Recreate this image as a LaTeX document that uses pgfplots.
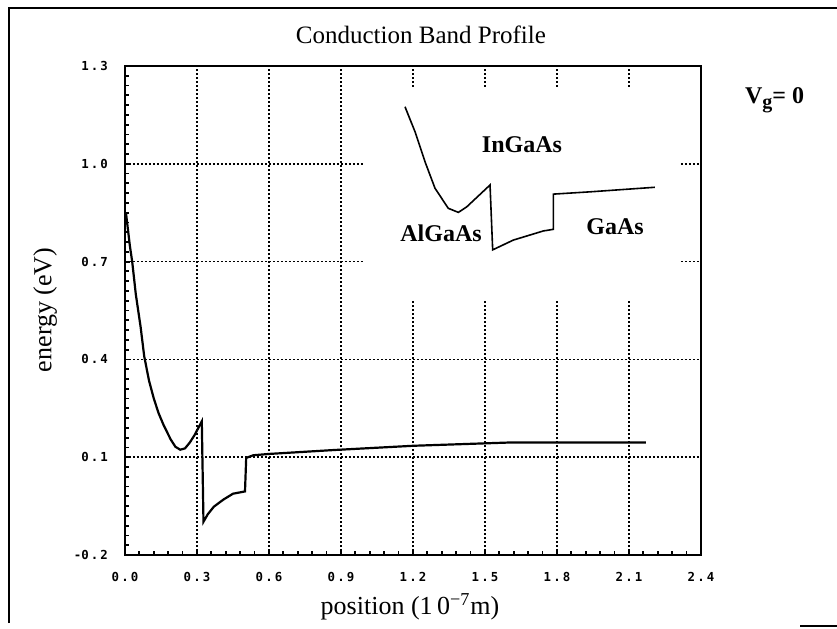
\documentclass[border=0pt]{standalone}
\usepackage{pgfplots}
\pgfplotsset{compat=1.18}
\usepackage{fontspec}
\setmainfont{Liberation Serif}
\setmonofont{DejaVu Sans Mono}
\begin{document}
\begin{tikzpicture}
\useasboundingbox (-62.5pt,-36.5pt) rectangle (356pt,277.5pt);
\begin{axis}[
  at={(0pt,0pt)}, anchor=south west,
  scale only axis, width=288pt, height=244.5pt,
  xmin=0, xmax=2.4, ymin=-0.2, ymax=1.3,
  xtick={0,0.3,0.6,0.9,1.2,1.5,1.8,2.1,2.4},
  xticklabels={0\,.\,0,0\,.\,3,0\,.\,6,0\,.\,9,1\,.\,2,1\,.\,5,1\,.\,8,2\,.\,1,2\,.\,4},
  ytick={-0.2,0.1,0.4,0.7,1.0,1.3},
  yticklabels={-0\,.\,2,0\,.\,1,0\,.\,4,0\,.\,7,1\,.\,0,1\,.\,3},
  minor x tick num=4, minor y tick num=9,
  tick align=inside,
  xtick pos=bottom, ytick pos=left,
  major tick length=2.5pt, minor tick length=2pt,
  grid=major,
  major grid style={black, line width=0.8pt, dash pattern=on 0.8pt off 1.2pt},
  axis line style={line width=1.1pt},
  tick style={black, line width=0.9pt},
  ticklabel style={font=\ttfamily\bfseries\fontsize{6.2}{7}\selectfont},
  yticklabel style={anchor=east, xshift=-5pt},
  xticklabel style={anchor=north, yshift=-5pt},
  clip=false,
]
\addplot[black, line width=1.1pt] coordinates {
 (0.004,0.85) (0.02,0.75) (0.03,0.70) (0.045,0.60) (0.065,0.50) (0.08,0.41)
 (0.10,0.335) (0.12,0.28) (0.14,0.235) (0.16,0.20) (0.19,0.155) (0.21,0.132)
 (0.23,0.123) (0.25,0.127) (0.27,0.145) (0.29,0.168) (0.32,0.21)
 (0.327,-0.098) (0.345,-0.075) (0.37,-0.052) (0.41,-0.030) (0.45,-0.012) (0.50,-0.005)
 (0.505,0.098) (0.535,0.106) (0.60,0.110) (0.87,0.122) (1.20,0.135)
 (1.40,0.140) (1.60,0.145) (1.90,0.145) (2.17,0.145)
};
\fill[white] (axis cs:0.99,0.582) rectangle (axis cs:2.31,1.236);
\addplot[black, line width=0.8pt] coordinates {
 (1.1667,1.175) (1.2083,1.0985) (1.25,1.0064) (1.2917,0.925) (1.347,0.8635)
 (1.389,0.851) (1.424,0.868) (1.521,0.935) (1.532,0.736) (1.618,0.766)
 (1.743,0.794) (1.785,0.799) (1.785,0.907) (1.9375,0.914) (2.208,0.928)
};
\node[font=\bfseries\fontsize{12}{14}\selectfont] at (axis cs:1.654,1.058) {InGaAs};
\node[font=\bfseries\fontsize{12}{14}\selectfont] at (axis cs:1.317,0.788) {AlGaAs};
\node[font=\bfseries\fontsize{12}{14}\selectfont] at (axis cs:2.042,0.806) {GaAs};
\node[font=\bfseries\fontsize{12}{14}\selectfont, anchor=west] at (axis cs:2.554,1.196) {V\raisebox{-0.45ex}{\fontsize{10}{12}\selectfont g}= 0};
\node[font=\fontsize{12.5}{14}\selectfont] at (axis cs:1.233,1.395) {Conduction Band Profile};
\node[font=\fontsize{13}{15}\selectfont] at (axis cs:1.1875,-0.36) {position (1\,0\textsuperscript{−7}m)};
\node[font=\fontsize{13}{15}\selectfont, rotate=90] at (axis cs:-0.333,0.552) {energy (eV)};
\end{axis}
\draw[line width=1pt] (-58pt,-34pt) -- (-58pt,273.5pt) -- (356pt,273.5pt);
\draw[line width=1pt] (337.5pt,-35.5pt) -- (356pt,-35.5pt);
\end{tikzpicture}
\end{document}
